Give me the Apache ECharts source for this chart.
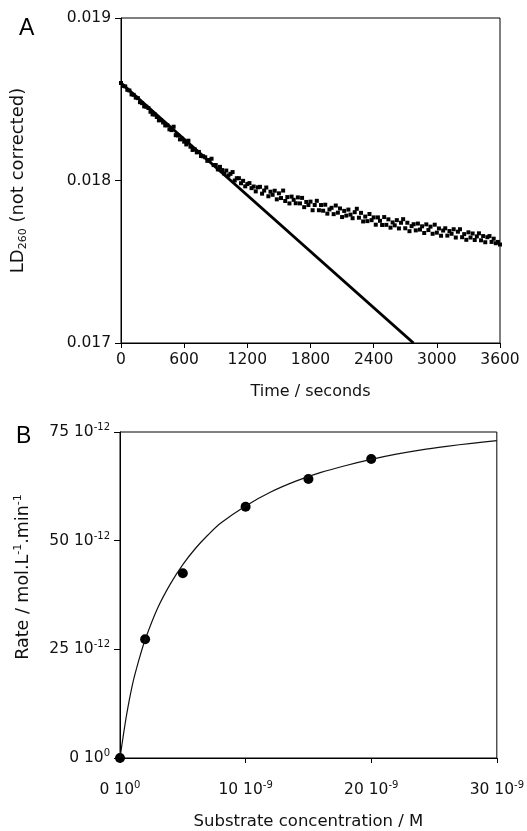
<!DOCTYPE html>
<html><head><meta charset="utf-8">
<script src="https://cdn.jsdelivr.net/npm/echarts@6/dist/echarts.min.js"></script>
<style>html,body{margin:0;padding:0;background:#fff}#c{width:527px;height:831px}</style>
</head><body><div id="c"></div>
<script>
// ---- Panel A data ----
const sampleStepSeconds = 20; // LD260 sampled every 20 s from 0 to 3600 s
const ld260Values = [
0.018600,0.018582,0.018579,0.018558,0.018554,0.018530,0.018527,0.018510,0.018507,0.018482,
0.018476,0.018456,0.018454,0.018446,0.018423,0.018407,0.018406,0.018391,0.018370,0.018372,
0.018357,0.018339,0.018340,0.018315,0.018310,0.018331,0.018279,0.018277,0.018253,0.018257,
0.018239,0.018222,0.018245,0.018208,0.018188,0.018192,0.018173,0.018176,0.018151,0.018149,
0.018143,0.018121,0.018126,0.018134,0.018095,0.018095,0.018068,0.018084,0.018064,0.018043,
0.018061,0.018031,0.018041,0.018052,0.018000,0.018014,0.018014,0.017983,0.017998,0.017964,
0.017978,0.017984,0.017953,0.017963,0.017933,0.017958,0.017961,0.017919,0.017938,0.017957,
0.017903,0.017931,0.017912,0.017937,0.017884,0.017921,0.017892,0.017938,0.017874,0.017898,
0.017859,0.017901,0.017881,0.017860,0.017896,0.017859,0.017893,0.017836,0.017868,0.017849,
0.017870,0.017817,0.017849,0.017875,0.017817,0.017849,0.017814,0.017851,0.017796,0.017822,
0.017832,0.017793,0.017846,0.017802,0.017828,0.017775,0.017813,0.017784,0.017821,0.017790,
0.017768,0.017805,0.017826,0.017771,0.017801,0.017748,0.017778,0.017750,0.017794,0.017756,
0.017773,0.017728,0.017773,0.017752,0.017726,0.017775,0.017727,0.017761,0.017710,0.017742,
0.017724,0.017756,0.017705,0.017740,0.017762,0.017706,0.017740,0.017688,0.017719,0.017731,
0.017693,0.017735,0.017698,0.017718,0.017677,0.017730,0.017695,0.017716,0.017672,0.017728,
0.017679,0.017705,0.017660,0.017692,0.017706,0.017661,0.017689,0.017672,0.017700,0.017649,
0.017685,0.017700,0.017651,0.017670,0.017635,0.017681,0.017649,0.017674,0.017634,0.017656,
0.017675,0.017632,0.017658,0.017620,0.017651,0.017658,0.017622,0.017642,0.017614,0.017622,
0.017606
];
const initialFitTimes = [0, 2778];
const initialFitValues = [0.01860, 0.01700];
const timeTicks = [0, 600, 1200, 1800, 2400, 3000, 3600];
const ldTicks = [0.017, 0.018, 0.019];

// ---- Panel B data ----
const substrateConc = [0, 2, 5, 10, 15, 20];          // x 10^-9 M
const rateValues = [0, 27.3, 42.5, 57.8, 64.2, 68.8];  // x 10^-12 mol/L/min
const fitConc = [0, 0.5, 1, 1.5, 2, 3, 4, 5, 6, 7, 8, 10, 12, 14, 16, 18, 20, 22, 24, 26, 28, 30];
const fitRate = [0, 9.5, 17, 22.5, 27.2, 34.5, 40, 44.5, 48.2, 51.3, 54, 58, 61.2, 63.7, 65.7, 67.3, 68.7, 69.9, 70.9, 71.7, 72.4, 73.0];
const concTicks = [0, 10, 20, 30];
const concTickMain = ['0 10', '10 10', '20 10', '30 10'];
const concTickExp = ['0', '-9', '-9', '-9'];
const rateTicks = [0, 25, 50, 75];
const rateTickMain = ['0 10', '25 10', '50 10', '75 10'];
const rateTickExp = ['0', '-12', '-12', '-12'];

const FONT = '"DejaVu Sans", Verdana, sans-serif';
const FONT_T = '"Liberation Sans", Arial, sans-serif';
const TXT = '#111';
const scatterA = ld260Values.map((v, i) => [i * sampleStepSeconds, v]);
const fitA = initialFitTimes.map((t, i) => [t, initialFitValues[i]]);
const ptsB = substrateConc.map((s, i) => [s, rateValues[i]]);
const fitB = fitConc.map((s, i) => [s, fitRate[i]]);

function richLabel(ticks, mains, exps) {
  return function (v) {
    const i = ticks.findIndex(t => Math.abs(t - v) < 1e-9);
    if (i < 0) return '';
    return '{n|' + mains[i] + '}{s|' + exps[i] + '}';
  };
}
const supRich = {
  n: { fontFamily: FONT, fontSize: 15.5, color: TXT },
  s: { fontFamily: FONT, fontSize: 10, color: TXT, padding: [0, 0, 9, 0] }
};
const axisBase = {
  axisLine: { show: true, onZero: false, lineStyle: { color: '#000', width: 1 } },
  axisTick: { show: true, inside: false, length: 5, lineStyle: { color: '#000' } },
  splitLine: { show: false },
  minorTick: { show: false }
};

const chart = echarts.init(document.getElementById('c'), null, { renderer: 'canvas' });
chart.setOption({
  animation: false,
  backgroundColor: '#fff',
  title: [
    { text: 'A', left: 14, top: 12, textStyle: { fontFamily: FONT_T, fontSize: 23, fontWeight: 'normal', color: '#000' } },
    { text: 'B', left: 11, top: 420, textStyle: { fontFamily: FONT_T, fontSize: 23, fontWeight: 'normal', color: '#000' } }
  ],
  grid: [
    { left: 121, top: 18, width: 379, height: 325, show: true, borderColor: '#000', borderWidth: 1, backgroundColor: 'transparent' },
    { left: 120, top: 432, width: 379, height: 328, show: true, borderColor: '#000', borderWidth: 1, backgroundColor: 'transparent' }
  ],
  xAxis: [
    Object.assign({}, axisBase, {
      gridIndex: 0, type: 'value', min: 0, max: 3600, interval: 600,
      name: 'Time / seconds', nameLocation: 'middle', nameGap: 41,
      nameTextStyle: { fontFamily: FONT, fontSize: 16, color: TXT },
      axisLabel: { fontFamily: FONT, fontSize: 15.5, color: TXT, margin: 9,
        formatter: v => timeTicks.indexOf(v) >= 0 ? String(v) : '' }
    }),
    Object.assign({}, axisBase, {
      gridIndex: 1, type: 'value', min: 0, max: 30, interval: 10,
      name: 'Substrate concentration / M', nameLocation: 'middle', nameGap: 55,
      nameTextStyle: { fontFamily: FONT, fontSize: 16.5, color: TXT },
      axisLabel: { margin: 22, formatter: richLabel(concTicks, concTickMain, concTickExp), rich: supRich }
    })
  ],
  yAxis: [
    Object.assign({}, axisBase, {
      gridIndex: 0, type: 'value', min: 0.017, max: 0.019, interval: 0.001,
      axisTick: { show: true, length: 6, lineStyle: { color: '#000' } },
      name: '{a|LD}{b|260}{a| (not corrected)}', nameLocation: 'middle', nameGap: 92, nameRotate: 90,
      nameTextStyle: { rich: {
        a: { fontFamily: FONT, fontSize: 18, color: TXT },
        b: { fontFamily: FONT, fontSize: 11, color: TXT, padding: [10, 0, 0, 0] }
      } },
      axisLabel: { fontFamily: FONT, fontSize: 15.5, color: TXT, margin: 10,
        formatter: v => { const i = ldTicks.findIndex(t => Math.abs(t - v) < 1e-9); return i < 0 ? '' : ldTicks[i].toFixed(3); } }
    }),
    Object.assign({}, axisBase, {
      gridIndex: 1, type: 'value', min: 0, max: 75, interval: 25,
      axisTick: { show: true, length: 6, lineStyle: { color: '#000' } },
      name: '{a|Rate / mol.L}{s|-1}{a|.min}{s|-1}', nameLocation: 'middle', nameGap: 86, nameRotate: 90,
      nameTextStyle: { padding: [0, 0, 0, 36], rich: {
        a: { fontFamily: FONT, fontSize: 17.5, color: TXT },
        s: { fontFamily: FONT, fontSize: 11, color: TXT, padding: [0, 0, 10, 0] }
      } },
      axisLabel: { margin: 10, formatter: richLabel(rateTicks, rateTickMain, rateTickExp), rich: supRich }
    })
  ],
  series: [
    { type: 'scatter', xAxisIndex: 0, yAxisIndex: 0, data: scatterA, symbol: 'rect', symbolSize: 4,
      itemStyle: { color: '#000', opacity: 1 }, silent: true },
    { type: 'line', xAxisIndex: 0, yAxisIndex: 0, data: fitA, symbol: 'none',
      lineStyle: { color: '#000', width: 3 }, silent: true },
    { type: 'line', xAxisIndex: 1, yAxisIndex: 1, data: fitB, symbol: 'none', smooth: 0.3,
      lineStyle: { color: '#111', width: 1.2 }, silent: true },
    { type: 'scatter', xAxisIndex: 1, yAxisIndex: 1, data: ptsB, symbol: 'circle', symbolSize: 10,
      itemStyle: { color: '#000', opacity: 1 }, silent: true, clip: false }
  ]
});
</script></body></html>
